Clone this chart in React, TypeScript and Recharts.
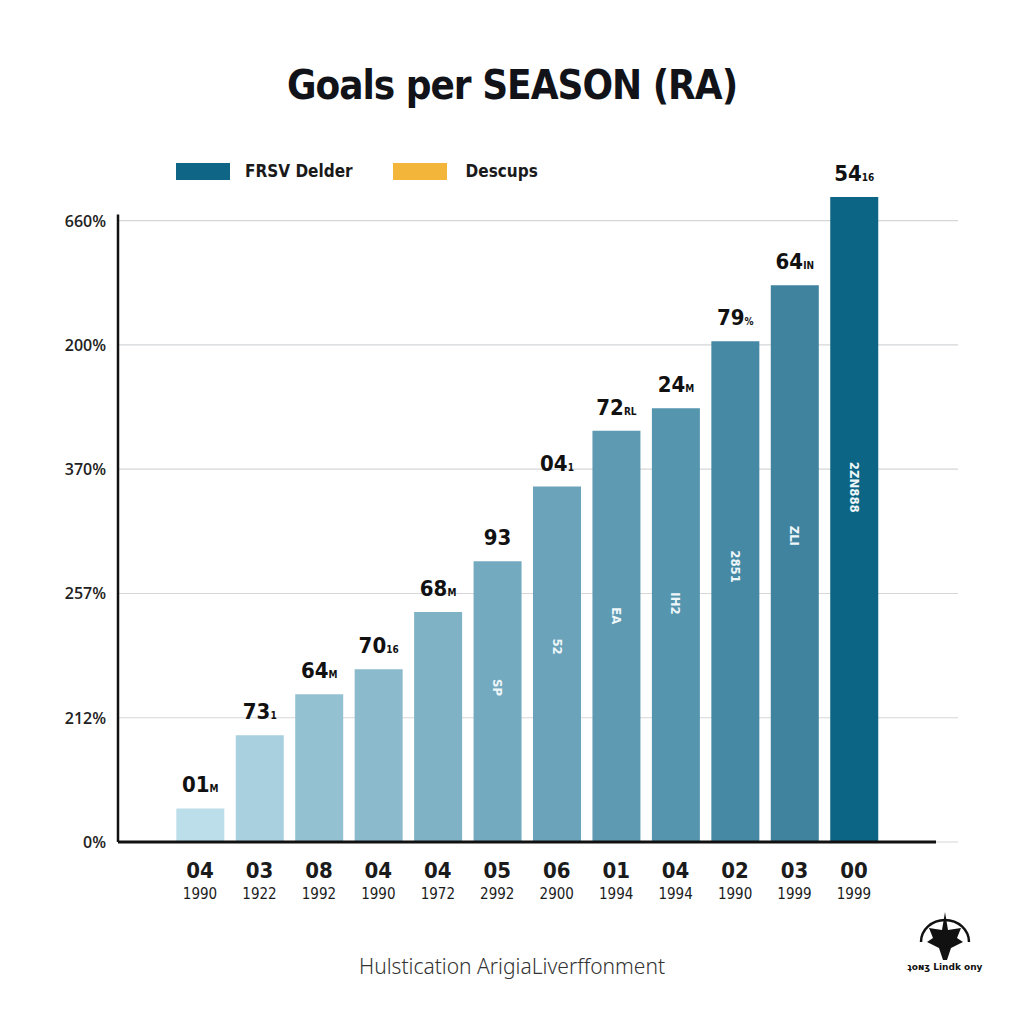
import {
  BarChart,
  Bar,
  Cell,
  XAxis,
  YAxis,
  CartesianGrid,
  ReferenceLine,
  LabelList,
} from "recharts";

const seasons = ["04", "03", "08", "04", "04", "05", "06", "01", "04", "02", "03", "00"];
const years = ["1990", "1922", "1992", "1990", "1972", "2992", "2900", "1994", "1994", "1990", "1999", "1999"];
const goals = [0.27, 0.86, 1.19, 1.39, 1.85, 2.26, 2.86, 3.31, 3.49, 4.03, 4.48, 5.19];
const valueLabels = ["01", "73", "64", "70", "68", "93", "04", "72", "24", "79", "64", "54"];
const valueSuffixes = ["M", "1", "M", "16", "M", "", "1", "RL", "M", "%", "IN", "16"];
const innerLabels = ["", "", "", "", "", "SP", "52", "EA", "IH2", "2851", "ZLI", "2ZN888"];
const barColors = [
  "#bcdeea", "#a8d0de", "#94c1d2", "#8bbacc", "#80b2c6", "#74aabf",
  "#6aa3ba", "#5e9bb3", "#5595ae", "#4689a4", "#3f839f", "#0c6584",
];
const yTicks = [0, 1, 2, 3, 4, 5];
const yTickLabels = ["0%", "212%", "257%", "370%", "200%", "660%"];
const legendNames = ["FRSV Delder", "Descups"];
const legendColors = ["#0f6585", "#f4b63a"];

// x positions in "bar units": bars sit at 1..12
const xDomain: [number, number] = [-0.38, 13.75];
const xAxisEnd = 13.38;
const yAxisTop = 5.05;

const data = seasons.map((s, i) => ({
  idx: i + 1,
  season: s,
  year: years[i],
  goals: goals[i],
}));

const narrow = "'Liberation Sans Narrow', 'DejaVu Sans Condensed', 'Noto Sans', sans-serif";

const XTick = (props: any) => {
  const { x, y, payload } = props;
  const i = Math.round(payload.value) - 1;
  if (i < 0 || i >= seasons.length) return null;
  return (
    <g>
      <text x={x} y={y + 28} textAnchor="middle" fontFamily={narrow} fontSize={22} fontWeight={600} fill="#1b1b1b">
        {seasons[i]}
      </text>
      <text x={x} y={y + 49} textAnchor="middle" fontFamily={narrow} fontSize={15} fill="#1b1b1b">
        {years[i]}
      </text>
    </g>
  );
};

const YTick = (props: any) => {
  const { x, y, payload } = props;
  const i = yTicks.indexOf(payload.value);
  return (
    <text x={x - 2} y={y + 6} textAnchor="end" fontFamily="'Open Sans', sans-serif" fontSize={16} fontWeight={600} fill="#222">
      {yTickLabels[i]}
    </text>
  );
};

const TopLabel = (props: any) => {
  const { x, y, width, index } = props;
  const cx = x + width / 2;
  return (
    <text x={cx} y={y - 16} textAnchor="middle" fontFamily={narrow} fill="#111">
      <tspan fontSize={22} fontWeight={700}>{valueLabels[index]}</tspan>
      <tspan fontSize={10} fontWeight={600}>{valueSuffixes[index]}</tspan>
    </text>
  );
};

const InnerLabel = (props: any) => {
  const { x, y, width, height, index } = props;
  const t = innerLabels[index];
  if (!t) return null;
  const cx = x + width / 2;
  const cy = y + height * 0.45;
  return (
    <text
      x={cx}
      y={cy}
      transform={`rotate(90 ${cx} ${cy})`}
      textAnchor="middle"
      dominantBaseline="central"
      fontFamily={narrow}
      fontSize={13}
      fontWeight={600}
      fill="#eef6f9"
    >
      {t}
    </text>
  );
};

const Logo = () => (
  <svg width={80} height={70} style={{ position: "absolute", left: 905, top: 908 }}>
    <path d="M16 34 A24 22 0 0 1 64 34" fill="none" stroke="#111" strokeWidth={2.5} />
    <path d="M40 4 L43 22 L56 20 L52 30 L58 34 L46 40 L42 52 L38 52 L34 40 L22 34 L28 30 L24 20 L37 22 Z" fill="#111" />
    <text x={40} y={62} textAnchor="middle" fontFamily="'DejaVu Sans', sans-serif" fontSize={9} fontWeight={700} fill="#111">
      {"ʇoɴʒ Lindk ony"}
    </text>
  </svg>
);

export default function App() {
  return (
    <div
      style={{
        position: "absolute",
        left: 0,
        top: 0,
        width: 1024,
        height: 1024,
        background: "#ffffff",
        overflow: "hidden",
      }}
    >
      <div
        style={{
          position: "absolute",
          top: 62,
          left: 0,
          width: 1024,
          textAlign: "center",
          fontFamily: narrow,
          fontWeight: 700,
          fontSize: 40,
          letterSpacing: -1,
          color: "#111318",
        }}
      >
        Goals per SEASON (RA)
      </div>

      <div style={{ position: "absolute", top: 161, left: 176, display: "flex", alignItems: "center" }}>
        {legendNames.map((n, i) => (
          <div key={n} style={{ display: "flex", alignItems: "center", marginRight: i === 0 ? 40 : 0 }}>
            <div style={{ width: 54, height: 17, background: legendColors[i] }} />
            <span
              style={{
                marginLeft: i === 0 ? 15 : 19,
                fontFamily: narrow,
                fontSize: 17,
                fontWeight: 600,
                color: "#1a1a1a",
              }}
            >
              {n}
            </span>
          </div>
        ))}
      </div>

      <BarChart
        width={1024}
        height={1024}
        data={data}
        margin={{ top: 171, right: 66, bottom: 122, left: 0 }}
      >
        <CartesianGrid vertical={false} horizontalValues={yTicks} stroke="#d4d6d8" strokeWidth={1.2} />
        <XAxis
          dataKey="idx"
          type="number"
          domain={xDomain}
          ticks={data.map((d) => d.idx)}
          allowDataOverflow
          axisLine={false}
          tickLine={false}
          height={60}
          tick={<XTick />}
          interval={0}
        />
        <YAxis
          type="number"
          domain={[0, 5.4]}
          ticks={yTicks}
          axisLine={false}
          tickLine={false}
          width={118}
          tickMargin={4}
          tick={<YTick />}
          interval={0}
        />
        <Bar dataKey="goals" barSize={48} isAnimationActive={false}>
          {data.map((d, i) => (
            <Cell key={d.idx} fill={barColors[i]} />
          ))}
          <LabelList dataKey="goals" content={<TopLabel />} />
          <LabelList dataKey="goals" content={<InnerLabel />} />
        </Bar>
        <ReferenceLine
          segment={[
            { x: xDomain[0], y: 0 },
            { x: xAxisEnd, y: 0 },
          ]}
          stroke="#111"
          strokeWidth={3}
          ifOverflow="visible"
        />
        <ReferenceLine
          segment={[
            { x: xDomain[0], y: 0 },
            { x: xDomain[0], y: yAxisTop },
          ]}
          stroke="#111"
          strokeWidth={2.5}
          ifOverflow="visible"
        />
      </BarChart>

      <div
        style={{
          position: "absolute",
          top: 952,
          left: 0,
          width: 1024,
          textAlign: "center",
          fontFamily: "'Noto Sans', sans-serif",
          fontWeight: 300,
          fontSize: 21,
          color: "#333",
        }}
      >
        Hulstication ArigiaLiverffonment
      </div>

      <Logo />
    </div>
  );
}
